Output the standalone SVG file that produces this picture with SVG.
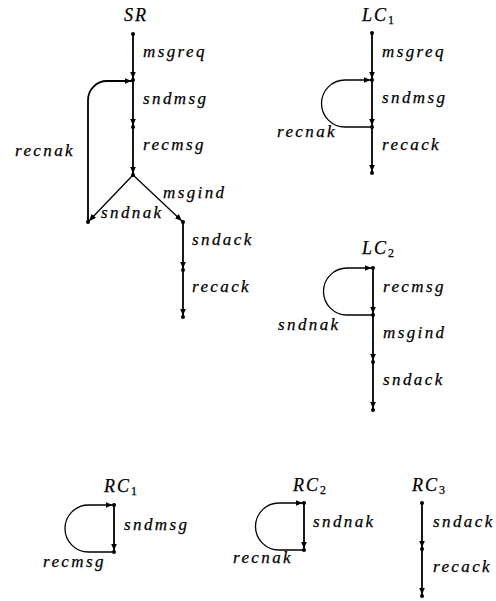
<svg xmlns="http://www.w3.org/2000/svg" width="496" height="601" viewBox="0 0 496 601">
  <style>
    .edge { fill: none; stroke: #000; stroke-width: 1.8; marker-end: url(#arr); }
    .loop { fill: none; stroke: #000; stroke-width: 1.3; marker-end: url(#arr); }
    .dot { fill: #000; }
    .lbl { font-family: "Liberation Serif", "DejaVu Serif", serif; font-style: italic; font-size: 17px; letter-spacing: 2.4px; fill: #000; stroke: #000; stroke-width: 0.25; }
    .ttl { font-family: "Liberation Serif", "DejaVu Serif", serif; font-style: italic; font-size: 18px; letter-spacing: 2px; fill: #000; stroke: #000; stroke-width: 0.25; }
    .sub { font-family: "Liberation Serif", "DejaVu Serif", serif; font-style: normal; font-size: 12px; letter-spacing: 0; }
  </style>
  <defs>
    <marker id="arr" markerUnits="userSpaceOnUse" markerWidth="10" markerHeight="8" refX="8.5" refY="3" orient="auto">
      <path d="M0,0 L7,3 L0,6 z" fill="#000"/>
    </marker>
  </defs>
  <rect width="496" height="601" fill="#fff"/>

  <!-- process titles -->
  <g id="titles">
    <text class="ttl" x="124" y="21">SR</text>
    <text class="ttl" x="362" y="21">LC<tspan class="sub" dy="3">1</tspan></text>
    <text class="ttl" x="362" y="254">LC<tspan class="sub" dy="3">2</tspan></text>
    <text class="ttl" x="104" y="492">RC<tspan class="sub" dy="3">1</tspan></text>
    <text class="ttl" x="293" y="491">RC<tspan class="sub" dy="3">2</tspan></text>
    <text class="ttl" x="412" y="491">RC<tspan class="sub" dy="3">3</tspan></text>
  </g>

  <!-- transitions -->
  <g id="connectors">
    <!-- SR -->
    <path class="edge" d="M133,34 V80"/>
    <path class="edge" d="M133,80 V127"/>
    <path class="edge" d="M133,127 V175"/>
    <path class="loop" d="M133,175 L88,222"/>
    <path class="loop" d="M133,175 L183,222"/>
    <path class="edge" d="M183,222 V270"/>
    <path class="edge" d="M183,270 V317"/>
    <path class="edge" d="M88,222 V100 A19,19 0 0 1 107,81 H133"/>
    <!-- LC1 -->
    <path class="edge" d="M372,33 V80"/>
    <path class="edge" d="M372,80 V127"/>
    <path class="edge" d="M372,127 V173"/>
    <path class="loop" d="M372,127 H345 A23.5,23.5 0 0 1 345,80 H372"/>
    <!-- LC2 -->
    <path class="edge" d="M373,268 V315"/>
    <path class="edge" d="M373,315 V362"/>
    <path class="edge" d="M373,362 V410"/>
    <path class="loop" d="M373,315 H347 A23.5,23.5 0 0 1 347,268 H373"/>
    <!-- RC1 -->
    <path class="edge" d="M114,505 V552"/>
    <path class="loop" d="M114,552 H88.5 A23.5,23.5 0 0 1 88.5,505 H114"/>
    <!-- RC2 -->
    <path class="edge" d="M304,503 V550"/>
    <path class="loop" d="M304,550 H279 A23.5,23.5 0 0 1 279,503 H304"/>
    <!-- RC3 -->
    <path class="edge" d="M422,503 V549"/>
    <path class="edge" d="M422,549 V596"/>
  </g>

  <!-- states -->
  <g id="SR">
    <circle class="dot" cx="133" cy="34" r="2"/>
    <circle class="dot" cx="133" cy="80" r="2"/>
    <circle class="dot" cx="133" cy="127" r="2"/>
    <circle class="dot" cx="133" cy="175" r="2"/>
    <circle class="dot" cx="88" cy="222" r="2"/>
    <circle class="dot" cx="183" cy="222" r="2"/>
    <circle class="dot" cx="183" cy="270" r="2"/>
    <circle class="dot" cx="183" cy="317" r="2"/>
    <text class="lbl" x="143" y="57">msgreq</text>
    <text class="lbl" x="143" y="104">sndmsg</text>
    <text class="lbl" x="143" y="150">recmsg</text>
    <text class="lbl" x="15" y="156">recnak</text>
    <text class="lbl" x="163" y="198">msgind</text>
    <text class="lbl" x="101" y="218">sndnak</text>
    <text class="lbl" x="192" y="245">sndack</text>
    <text class="lbl" x="192" y="292">recack</text>
  </g>
  <g id="LC1">
    <circle class="dot" cx="372" cy="33" r="2"/>
    <circle class="dot" cx="372" cy="80" r="2"/>
    <circle class="dot" cx="372" cy="127" r="2"/>
    <circle class="dot" cx="372" cy="173" r="2"/>
    <text class="lbl" x="382" y="57">msgreq</text>
    <text class="lbl" x="382" y="103">sndmsg</text>
    <text class="lbl" x="277" y="137">recnak</text>
    <text class="lbl" x="382" y="150">recack</text>
  </g>
  <g id="LC2">
    <circle class="dot" cx="373" cy="268" r="2"/>
    <circle class="dot" cx="373" cy="315" r="2"/>
    <circle class="dot" cx="373" cy="362" r="2"/>
    <circle class="dot" cx="373" cy="410" r="2"/>
    <text class="lbl" x="383" y="292">recmsg</text>
    <text class="lbl" x="278" y="330">sndnak</text>
    <text class="lbl" x="383" y="338">msgind</text>
    <text class="lbl" x="383" y="385">sndack</text>
  </g>
  <g id="RC1">
    <circle class="dot" cx="114" cy="505" r="2"/>
    <circle class="dot" cx="114" cy="552" r="2"/>
    <text class="lbl" x="124" y="530">sndmsg</text>
    <text class="lbl" x="43" y="567">recmsg</text>
  </g>
  <g id="RC2">
    <circle class="dot" cx="304" cy="503" r="2"/>
    <circle class="dot" cx="304" cy="550" r="2"/>
    <text class="lbl" x="313" y="527">sndnak</text>
    <text class="lbl" x="233" y="563">recnak</text>
  </g>
  <g id="RC3">
    <circle class="dot" cx="422" cy="503" r="2"/>
    <circle class="dot" cx="422" cy="549" r="2"/>
    <circle class="dot" cx="422" cy="596" r="2"/>
    <text class="lbl" x="433" y="527">sndack</text>
    <text class="lbl" x="433" y="572">recack</text>
  </g>
</svg>
